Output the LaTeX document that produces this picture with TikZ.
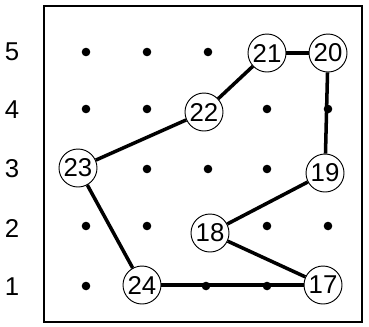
\documentclass[tikz,border=0pt]{standalone}
\usepackage{fontspec}
\setmainfont{Liberation Sans}
\usetikzlibrary{positioning}

\begin{document}
\begin{tikzpicture}[x=0.03cm, y=-0.03cm,
  num/.style={circle, draw, line width=0.8pt, fill=white, minimum size=1.14cm,
              inner sep=0pt, font=\fontsize{22}{24}\selectfont},
  rowlab/.style={font=\fontsize{22}{24}\selectfont, inner sep=0pt},
  path/.style={line width=3pt}]
  \useasboundingbox (0,0) rectangle (369,326);
  \draw[line width=2.4pt] (44,6) rectangle (362,322);
  % row labels
  \node[rowlab] (r5) at (12,52) {5};
  \node[rowlab] (r4) at (12,110) {4};
  \node[rowlab] (r3) at (12,169) {3};
  \node[rowlab] (r2) at (12,228) {2};
  \node[rowlab] (r1) at (12,287) {1};
  % grid dots
  \foreach \x/\y in {86/52, 147/52, 208/52,
                     86/109, 147/109, 267/109, 328/109,
                     147/169, 208/169, 267/169,
                     86/226, 147/226, 267/226, 328/226,
                     86/286, 206/286, 267/286}
    \fill (\x,\y) circle (4.3);
  % numbered points
  \node[num] (n21) at (267,53) {21};
  \node[num] (n20) at (328,53) {20};
  \node[num] (n22) at (204,112) {22};
  \node[num] (n23) at (78,168) {23};
  \node[num] (n19) at (325,173) {19};
  \node[num] (n18) at (210,233) {18};
  \node[num] (n24) at (142,285) {24};
  \node[num] (n17) at (323,285) {17};
  \draw[path] (n21) -- (n20);
  \draw[path] (n20) -- (n19);
  \draw[path] (n19) -- (n18);
  \draw[path] (n18) -- (n17);
  \draw[path] (n17) -- (n24);
  \draw[path] (n24) -- (n23);
  \draw[path] (n23) -- (n22);
  \draw[path] (n22) -- (n21);
\end{tikzpicture}
\end{document}
